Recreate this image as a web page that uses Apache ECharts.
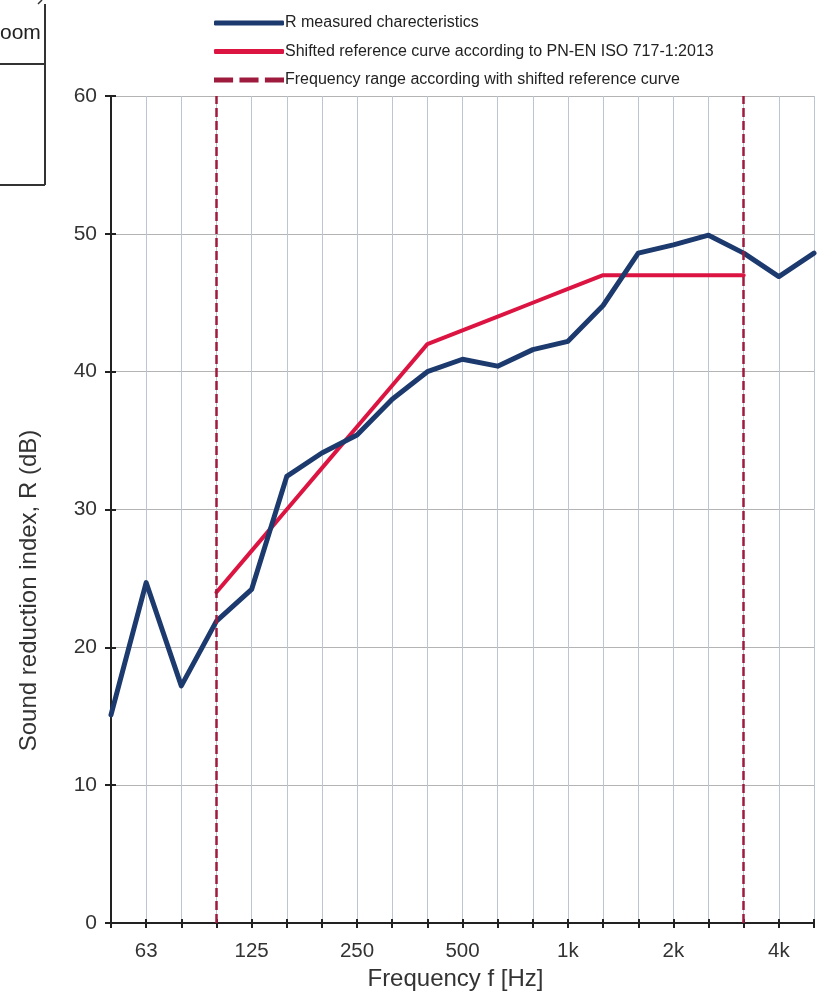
<!DOCTYPE html>
<html>
<head>
  <meta charset="utf-8">
  <script src="https://cdn.jsdelivr.net/npm/echarts@6/dist/echarts.min.js"></script>
  <title>Sound reduction index</title>
  <style>
    html, body { margin: 0; padding: 0; background: #fff; }
    #chart { width: 820px; height: 992px; }
  </style>
</head>
<body>
  <div id="chart"></div>
  <script>
    // 1/3 octave bands, 50 Hz - 5 kHz
    const bands = ["50", "63", "80", "100", "125", "160", "200", "250", "315", "400", "500",
      "630", "800", "1k", "1.25k", "1.6k", "2k", "2.5k", "3.15k", "4k", "5k"];
    const tickLabels = ["63", "125", "250", "500", "1k", "2k", "4k"];

    const measured = [15.1, 24.7, 17.2, 21.9, 24.2, 32.4, 34.1, 35.4, 38.0, 40.0, 40.9,
      40.4, 41.6, 42.2, 44.8, 48.6, 49.2, 49.9, 48.6, 46.9, 48.6];
    // shifted reference curve, 100 Hz - 3.15 kHz
    const reference = [null, null, null, 24, 27, 30, 33, 36, 39, 42, 43,
      44, 45, 46, 47, 47, 47, 47, 47, null, null];
    const rangeLimits = ["100", "3.15k"];

    const chart = echarts.init(document.getElementById("chart"));
    const font = "Liberation Sans, Arial, sans-serif";
    const dashIcon = "path://M0,0h18v4h-18z M24,0h18v4h-18z M48,0h18v4h-18z";

    const option = {
      backgroundColor: "#fff",
      animation: false,
      textStyle: { fontFamily: font },
      legend: {
        orient: "vertical",
        left: 209,
        top: 10,
        itemWidth: 70,
        itemHeight: 5,
        itemGap: 12.5,
        symbolKeepAspect: false,
        textStyle: { fontSize: 16, color: "#222", fontFamily: font, padding: [0, 0, 0, -4] },
        data: [
          { name: "R measured charecteristics", icon: "roundRect" },
          { name: "Shifted reference curve according to PN-EN ISO 717-1:2013", icon: "roundRect" },
          { name: "Frequency range according with shifted reference curve", icon: dashIcon },
        ],
      },
      grid: { left: 111, right: 6, top: 96, bottom: 69, outerBoundsMode: "none" },
      xAxis: [
        {
          type: "category",
          data: bands,
          boundaryGap: false,
          name: "Frequency f [Hz]",
          nameLocation: "middle",
          nameGap: 44,
          nameTextStyle: { fontSize: 24, color: "#333", padding: [0, 14, 0, 0] },
          axisLine: { lineStyle: { color: "#222", width: 2 } },
          axisTick: { show: true, length: 5, interval: 0, lineStyle: { color: "#222", width: 2 } },
          axisLabel: {
            interval: (i, v) => tickLabels.includes(v),
            fontSize: 20.5, color: "#333", margin: 18,
          },
          splitLine: { show: true, interval: 0, lineStyle: { color: "#bcc6d2", width: 1 } },
        },
        {
          type: "category",
          data: bands,
          boundaryGap: false,
          position: "bottom",
          axisLine: { show: false },
          axisTick: { show: true, inside: true, length: 4, interval: 0, lineStyle: { color: "#222", width: 2 } },
          axisLabel: { show: false },
          splitLine: { show: false },
        },
      ],
      yAxis: [
        {
          type: "value",
          min: 0,
          max: 60,
          interval: 10,
          name: "Sound reduction index, R (dB)",
          nameLocation: "middle",
          nameGap: 70,
          nameTextStyle: { fontSize: 24, color: "#333", padding: [0, 162, 0, 0] },
          axisLine: { show: true, lineStyle: { color: "#222", width: 2 } },
          axisTick: { show: true, length: 6, lineStyle: { color: "#222", width: 2 } },
          axisLabel: { fontSize: 21, color: "#333", margin: 14 },
          splitLine: { show: true, lineStyle: { color: "#b4b4b4", width: 1 } },
        },
        {
          type: "value",
          min: 0,
          max: 60,
          interval: 10,
          position: "left",
          axisLine: { show: false },
          axisTick: { show: true, inside: true, length: 5, lineStyle: { color: "#222", width: 2 } },
          axisLabel: { show: false },
          splitLine: { show: false },
        },
      ],
      series: [
        {
          name: "Frequency range according with shifted reference curve",
          type: "line",
          data: [],
          symbol: "none",
          lineStyle: { color: "#9e1b3e", width: 3, type: [9, 5] },
          itemStyle: { color: "#9e1b3e" },
          markLine: {
            symbol: "none",
            silent: true,
            label: { show: false },
            lineStyle: { color: "#9e1b3e", width: 2.5, type: [9, 4] },
            data: rangeLimits.map((f) => ({ xAxis: f })),
          },
        },
        {
          name: "Shifted reference curve according to PN-EN ISO 717-1:2013",
          type: "line",
          data: reference,
          symbol: "none",
          lineStyle: { color: "#dc1442", width: 4, cap: "round" },
          itemStyle: { color: "#dc1442" },
          z: 3,
        },
        {
          name: "R measured charecteristics",
          type: "line",
          data: measured,
          symbol: "none",
          lineStyle: { color: "#1c3a6e", width: 5, cap: "round", join: "round" },
          itemStyle: { color: "#1c3a6e" },
          z: 4,
        },
      ],
      graphic: [
        { type: "line", shape: { x1: 45, y1: 4, x2: 45, y2: 185 }, style: { stroke: "#333", lineWidth: 2 } },
        { type: "line", shape: { x1: 0, y1: 64, x2: 45, y2: 64 }, style: { stroke: "#333", lineWidth: 2 } },
        { type: "line", shape: { x1: 0, y1: 185, x2: 45, y2: 185 }, style: { stroke: "#333", lineWidth: 2 } },
        { type: "line", shape: { x1: 38, y1: 4, x2: 42, y2: 0 }, style: { stroke: "#333", lineWidth: 1.5 } },
        {
          type: "text", left: 0, top: 23,
          style: { text: "oom", fontSize: 21, fill: "#222", fontFamily: font },
        },
      ],
    };

    chart.setOption(option);
  </script>
</body>
</html>
